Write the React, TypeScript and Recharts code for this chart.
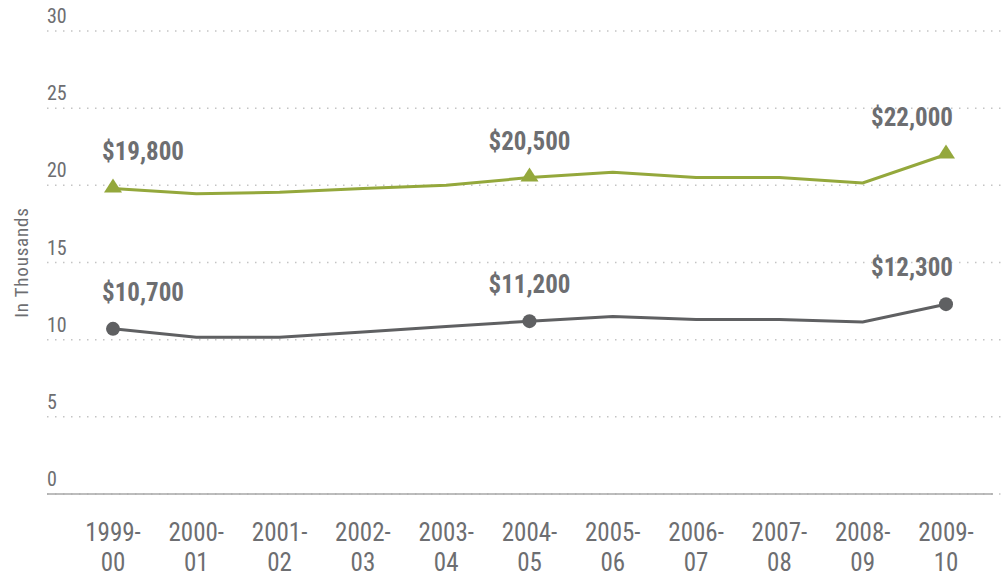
import React from 'react';
import { LineChart, Line, XAxis, YAxis, CartesianGrid, LabelList } from 'recharts';

const categories = ['1999-00', '2000-01', '2001-02', '2002-03', '2003-04', '2004-05', '2005-06', '2006-07', '2007-08', '2008-09', '2009-10'];
const upperSeries = [19.8, 19.45, 19.55, 19.8, 20.0, 20.5, 20.85, 20.5, 20.5, 20.15, 22.0];
const lowerSeries = [10.7, 10.15, 10.15, 10.5, 10.85, 11.2, 11.5, 11.3, 11.3, 11.15, 12.3];
const upperLabels = ['$19,800', '', '', '', '', '$20,500', '', '', '', '', '$22,000'];
const lowerLabels = ['$10,700', '', '', '', '', '$11,200', '', '', '', '', '$12,300'];
const yTicks = [0, 5, 10, 15, 20, 25, 30];

const data = categories.map((c, i) => ({
  cat: c,
  upper: upperSeries[i],
  lower: lowerSeries[i],
  upperLabel: upperLabels[i],
  lowerLabel: lowerLabels[i],
}));

const FONT = "'Roboto Condensed','Liberation Sans Narrow','DejaVu Sans Condensed','Arial Narrow',sans-serif";
const TEXT = '#6d6e71';
const GREEN = '#94a83c';
const GRAY = '#5f6062';

const XTick = (props: any) => {
  const { x, y, payload } = props;
  const [a, b] = String(payload.value).split('-');
  return (
    <g>
      <text x={x} y={y + 47} textAnchor="middle" fontFamily={FONT} fontSize={25} fill={TEXT}>{a + '-'}</text>
      <text x={x} y={y + 77} textAnchor="middle" fontFamily={FONT} fontSize={25} fill={TEXT}>{b}</text>
    </g>
  );
};

const YTick = (props: any) => {
  const { x, y, payload } = props;
  return (
    <text x={x} y={y - 8} textAnchor="start" fontFamily={FONT} fontSize={20} fill={TEXT}>{payload.value}</text>
  );
};

const makeLabel = (n: number) => (props: any) => {
  const { x, y, value, index } = props;
  if (!value) return null;
  let anchor: 'start' | 'middle' | 'end' = 'middle';
  let dx = 0;
  if (index === 0) { anchor = 'start'; dx = -11; }
  else if (index === n - 1) { anchor = 'end'; dx = 7; }
  return (
    <text x={x + dx} y={y - 28} textAnchor={anchor} fontFamily={FONT} fontWeight="bold" fontSize={25} fill={TEXT}>{value}</text>
  );
};

const marked = (i: number) => i === 0 || i === 5 || i === categories.length - 1;

const TriDot = (props: any) => {
  const { cx, cy, index } = props;
  if (!marked(index)) return <g key={`t${index}`} />;
  return <path key={`t${index}`} d={`M${cx},${cy - 10} L${cx + 9},${cy + 4} L${cx - 9},${cy + 4} Z`} fill={GREEN} />;
};

const CircDot = (props: any) => {
  const { cx, cy, index } = props;
  if (!marked(index)) return <g key={`c${index}`} />;
  return <circle key={`c${index}`} cx={cx} cy={cy} r={7} fill={GRAY} />;
};

const GridLine = (props: any) => {
  const { x1, x2, y1, y2 } = props;
  return <line x1={x1} x2={x2 + 9} y1={y1} y2={y2} stroke="#c4c4c4" strokeWidth={1.5} strokeDasharray="1.5 6.5" />;
};

const YLabel = (props: any) => {
  const { viewBox } = props;
  const cx = viewBox.x + 21;
  const cy = viewBox.y + viewBox.height / 2;
  return (
    <text x={cx} y={cy} transform={`rotate(-90, ${cx}, ${cy})`} textAnchor="middle" dominantBaseline="central" fontFamily={FONT} fontSize={19} letterSpacing={0.8} fill={TEXT}>In Thousands</text>
  );
};

export default function App() {
  return (
    <div style={{ position: 'absolute', left: 0, top: 0, width: 1002, height: 576, background: '#fff' }}>
      <LineChart width={1002} height={576} data={data} margin={{ top: 31, right: 9, bottom: 0, left: 0 }}>
        <CartesianGrid vertical={false} horizontal={GridLine} />
        <XAxis
          dataKey="cat"
          height={82}
          tickLine={false}
          tickSize={0}
          tickMargin={0}
          interval={0}
          padding={{ left: 66, right: 47 }}
          axisLine={{ stroke: '#a7a7a7', strokeWidth: 1.5 }}
          tick={<XTick />}
        />
        <YAxis
          domain={[0, 30]}
          ticks={yTicks}
          width={47}
          axisLine={false}
          tickLine={false}
          tickSize={0}
          tickMargin={0}
          tick={<YTick />}
          label={<YLabel />}
        />
        <Line type="linear" dataKey="upper" stroke={GREEN} strokeWidth={3} dot={TriDot} activeDot={false} isAnimationActive={false}>
          <LabelList dataKey="upperLabel" content={makeLabel(categories.length)} />
        </Line>
        <Line type="linear" dataKey="lower" stroke={GRAY} strokeWidth={3} dot={CircDot} activeDot={false} isAnimationActive={false}>
          <LabelList dataKey="lowerLabel" content={makeLabel(categories.length)} />
        </Line>
      </LineChart>
    </div>
  );
}
